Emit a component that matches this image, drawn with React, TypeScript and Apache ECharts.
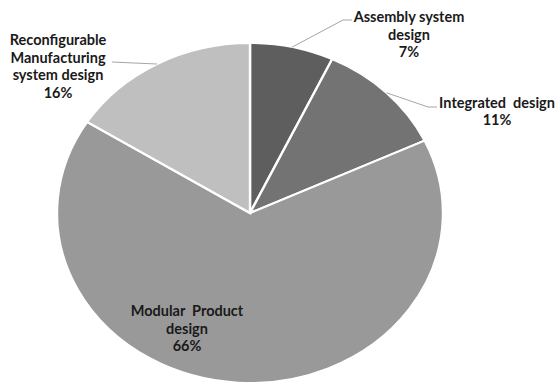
import React, { useEffect, useRef } from 'react';
import * as echarts from 'echarts';

// ---- data ----
const categories = [
  'Assembly system\ndesign',
  'Integrated  design',
  'Modular  Product\ndesign',
  'Reconfigurable\nManufacturing\nsystem design',
];
const values = [7, 11, 66, 16];

// ---- styling / layout ----
const colors = ['#5e5e5e', '#737373', '#999999', '#bfbfbf'];
const CX = 250;
const CY = 213;
const RX = 193;
const RY = 170;
const labelPos: number[][] = [
  [409, 34],
  [497, 111],
  [187, 328],
  [58, 66],
];
const leaderEnd: (number[][] | null)[] = [
  [
    [343, 20],
    [352, 20],
  ],
  [
    [428, 107],
    [437, 107],
  ],
  null,
  [[112, 62]],
];

export default function App() {
  const ref = useRef<HTMLDivElement>(null);
  useEffect(() => {
    if (!ref.current) return;
    const chart = echarts.init(ref.current, null, { renderer: 'svg' });
    const total = values.reduce((a, b) => a + b, 0);
    chart.setOption({
      animation: false,
      backgroundColor: '#ffffff',
      series: [
        {
          type: 'custom',
          coordinateSystem: 'none',
          silent: true,
          data: values.map((v, i) => ({ name: categories[i], value: v })),
          renderItem: (params: any, api: any) => {
            const i = params.dataIndex;
            const v = api.value(0) as number;
            let cum = 0;
            for (let k = 0; k < i; k++) cum += values[k];
            const start = -Math.PI / 2 + (2 * Math.PI * cum) / total;
            const end = start + (2 * Math.PI * v) / total;
            const mid = (start + end) / 2;
            const rim = [CX + RX * Math.cos(mid), CY + RY * Math.sin(mid)];
            const children: any[] = [
              {
                type: 'group',
                x: CX,
                y: CY,
                scaleY: RY / RX,
                children: [
                  {
                    type: 'sector',
                    shape: { cx: 0, cy: 0, r: RX, r0: 0, startAngle: start, endAngle: end, clockwise: true },
                    style: { fill: colors[i], stroke: '#ffffff', lineWidth: 2.4 },
                  },
                ],
              },
            ];
            const le = leaderEnd[i];
            if (le) {
              children.push({
                type: 'polyline',
                shape: { points: [rim, ...le] },
                style: { stroke: '#a6a6a6', lineWidth: 1, fill: null },
              });
            }
            const pct = Math.round((v / total) * 100);
            children.push({
              type: 'text',
              x: labelPos[i][0],
              y: labelPos[i][1],
              style: {
                text: categories[i] + '\n' + pct + '%',
                align: 'center',
                verticalAlign: 'middle',
                fontFamily: 'Lato',
                fontWeight: 'bold',
                fontSize: 14.5,
                lineHeight: 17.5,
                fill: '#1a1a1a',
              },
            });
            return { type: 'group', children };
          },
        },
      ],
    });
    return () => chart.dispose();
  }, []);
  return (
    <div
      ref={ref}
      style={{ position: 'fixed', left: 0, top: 0, width: 555, height: 383 }}
    />
  );
}
